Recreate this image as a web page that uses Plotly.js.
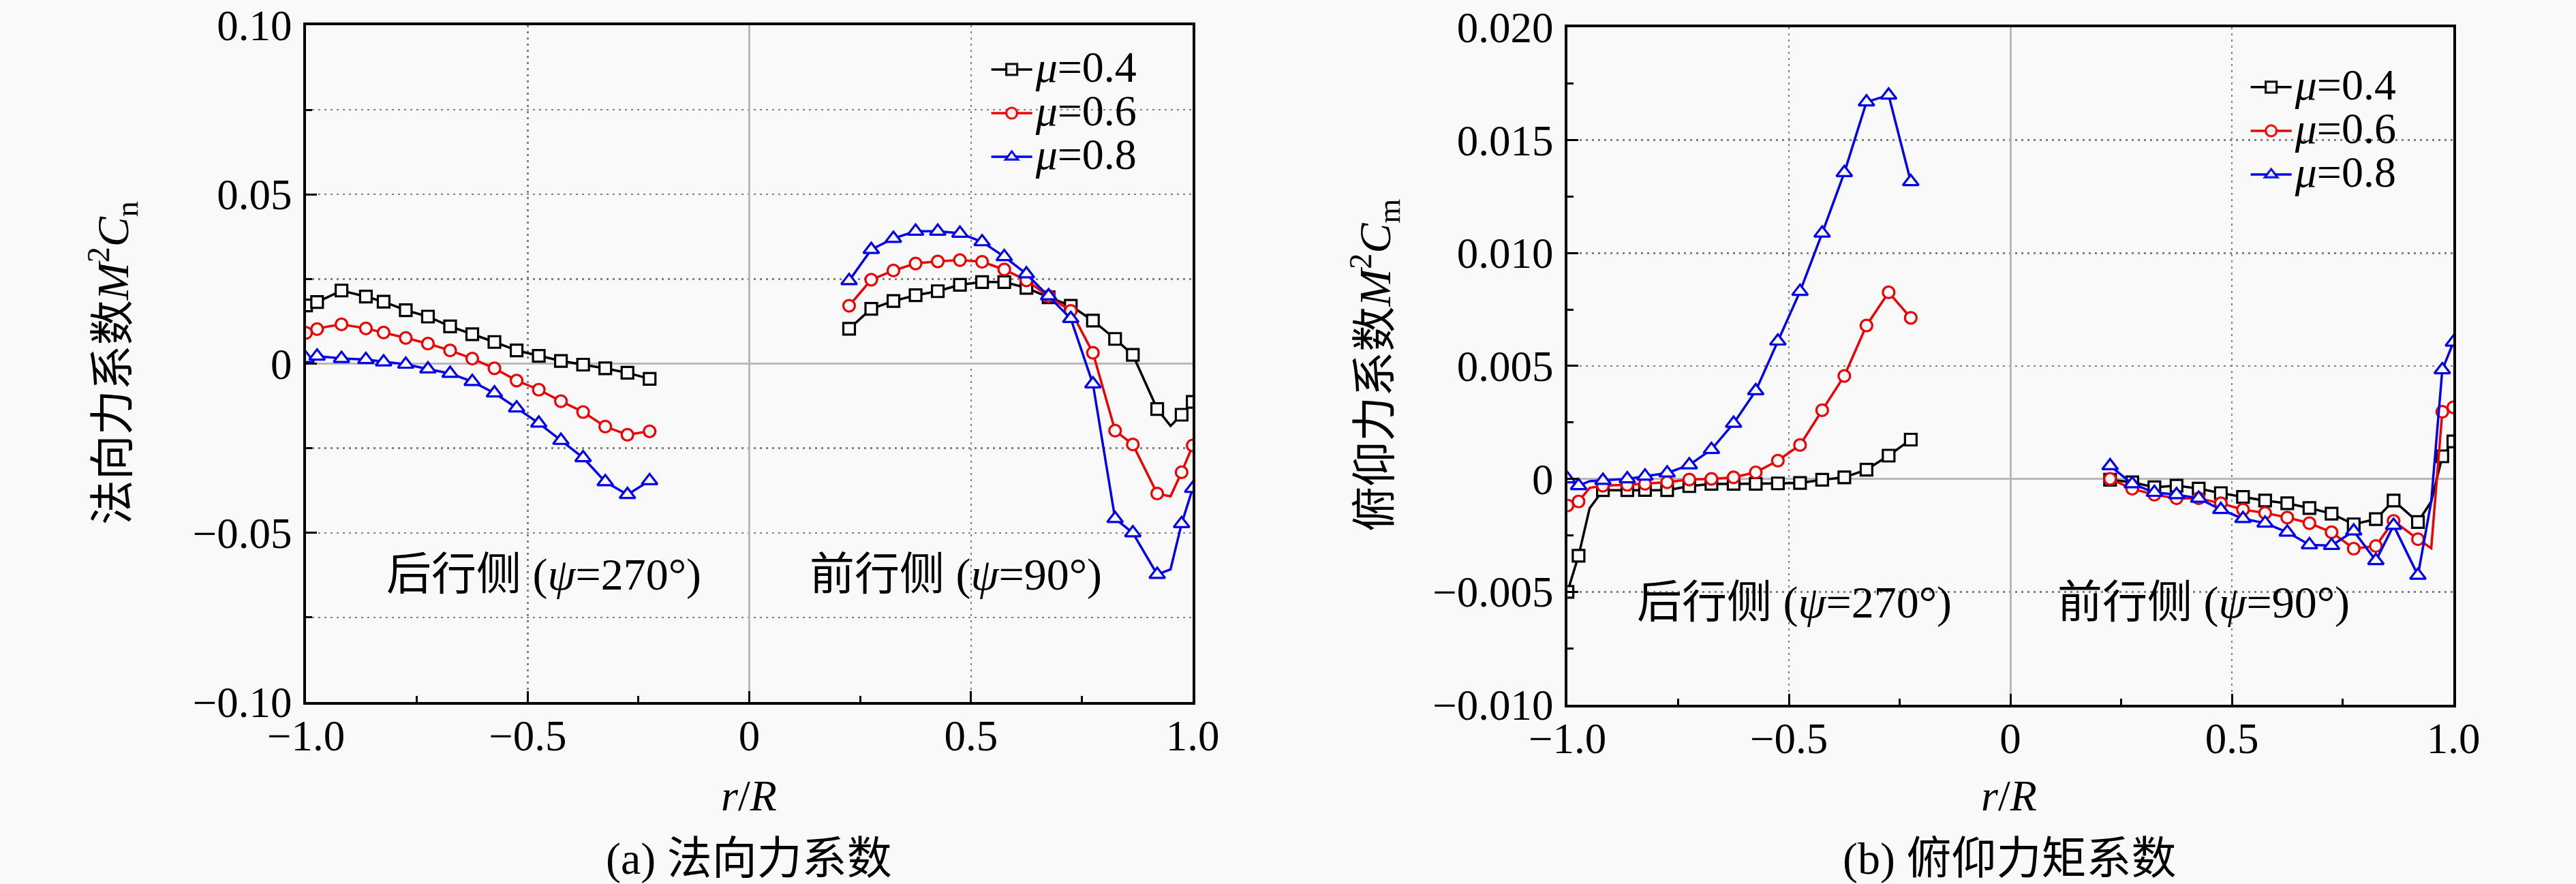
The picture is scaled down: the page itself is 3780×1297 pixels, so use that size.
<!DOCTYPE html>
<html>
<head>
<meta charset="utf-8">
<script src="https://cdn.plot.ly/plotly-3.0.1.min.js"></script>
<style>
  html, body { margin: 0; padding: 0; background: #f9f9f9; }
</style>
</head>
<body>
<div id="chart"></div>
<script>
// r/R stations, retreating side (psi=270) and advancing side (psi=90)
var xRet = [-1.0, -0.975, -0.95, -0.92, -0.865, -0.825, -0.775, -0.725, -0.675, -0.625, -0.575, -0.525, -0.475, -0.425, -0.375, -0.325, -0.275, -0.225];
var xAdv = [0.225, 0.275, 0.325, 0.375, 0.425, 0.475, 0.525, 0.575, 0.625, 0.675, 0.725, 0.775, 0.825, 0.865, 0.92, 0.95, 0.975, 1.0];

var muLabels = ['0.4', '0.6', '0.8'];

// (a) normal force coefficient M^2 Cn
var cnRet04 = [0.0172, 0.0182, 0.0197, 0.0216, 0.0198, 0.0183, 0.0158, 0.0139, 0.0110, 0.0087, 0.0064, 0.0039, 0.0023, 0.0008, -0.0003, -0.0014, -0.0027, -0.0045];
var cnRet06 = [0.0091, 0.0102, 0.0110, 0.0116, 0.0104, 0.0092, 0.0076, 0.0059, 0.0039, 0.0015, -0.0014, -0.0050, -0.0077, -0.0111, -0.0143, -0.0186, -0.0210, -0.0200];
var cnRet08 = [0.0015, 0.0022, 0.0019, 0.0015, 0.0012, 0.0005, -0.0002, -0.0016, -0.0029, -0.0053, -0.0087, -0.0131, -0.0176, -0.0227, -0.0278, -0.0349, -0.0387, -0.0346];
var cnAdv04 = [0.0103, 0.0162, 0.0185, 0.0202, 0.0214, 0.0233, 0.0241, 0.0241, 0.0224, 0.0196, 0.0171, 0.0127, 0.0073, 0.0026, -0.0134, -0.0184, -0.0151, -0.0113];
var cnAdv06 = [0.0171, 0.0248, 0.0275, 0.0296, 0.0302, 0.0306, 0.0301, 0.0278, 0.0246, 0.0199, 0.0156, 0.0032, -0.0198, -0.0239, -0.0384, -0.0392, -0.0321, -0.0242];
var cnAdv08 = [0.0245, 0.0337, 0.0370, 0.0391, 0.0391, 0.0385, 0.0360, 0.0316, 0.0265, 0.0200, 0.0133, -0.0060, -0.0458, -0.0500, -0.0623, -0.0608, -0.0473, -0.0369];

// (b) pitching moment coefficient M^2 Cm
var cmRet04 = [-0.0050, -0.0034, -0.0013, -0.0005, -0.0005, -0.00049, -0.0005, -0.00032, -0.00022, -0.00022, -0.00022, -0.0002, -0.00018, -0.00004, 0.00007, 0.00041, 0.00103, 0.00174];
var cmRet06 = [-0.00118, -0.0010, -0.0004, -0.0003, -0.00026, -0.00022, -0.00015, -0.00003, 0.0, 0.00007, 0.00029, 0.00081, 0.0015, 0.00304, 0.00456, 0.00679, 0.00826, 0.00713];
var cmRet08 = [0.0, -0.0003, -0.0001, -0.00007, 0.0, 0.00012, 0.00026, 0.00062, 0.0013, 0.00246, 0.0039, 0.0061, 0.0083, 0.01088, 0.01356, 0.01669, 0.01699, 0.01316];
var cmAdv04 = [-0.00004, -0.00015, -0.00037, -0.0003, -0.00043, -0.00063, -0.0008, -0.00096, -0.00108, -0.00129, -0.00154, -0.00201, -0.00178, -0.00096, -0.00191, -0.0010, 0.0010, 0.00166];
var cmAdv06 = [0.0, -0.00044, -0.0007, -0.00086, -0.00086, -0.00108, -0.00136, -0.00151, -0.00171, -0.00196, -0.00236, -0.00309, -0.00297, -0.00186, -0.00267, -0.00307, 0.00297, 0.00317];
var cmAdv08 = [0.00058, -0.00022, -0.0006, -0.0007, -0.00086, -0.00136, -0.00176, -0.00196, -0.00236, -0.00292, -0.00295, -0.00231, -0.00362, -0.00206, -0.00427, -0.0010, 0.00483, 0.00605];

// tick labels
var xTickVals = [-1, -0.5, 0, 0.5, 1];
var xTickText = ['\u22121.0', '\u22120.5', '0', '0.5', '1.0'];
var cnTickVals = [-0.1, -0.05, 0, 0.05, 0.1];
var cnTickText = ['\u22120.10', '\u22120.05', '0', '0.05', '0.10'];
var cmTickVals = [-0.01, -0.005, 0, 0.005, 0.01, 0.015, 0.02];
var cmTickText = ['\u22120.010', '\u22120.005', '0', '0.005', '0.010', '0.015', '0.020'];

var FONT = '"Liberation Serif", "Times New Roman", "Noto Sans CJK SC", serif';
var colors = ['#000000', '#ee0000', '#0000ee'];
var symbols = ['square', 'circle', 'triangle-up'];

// the 0.95 stations are drawn by the line only, no marker in the original
function noMarker(v) { return Math.abs(Math.abs(v) - 0.95) < 1e-9; }

function makeTrace(i, ret, adv, xa, ya, leg) {
  var xs = xRet.concat([null], xAdv);
  var ys = ret.concat([null], adv);
  return {
    type: 'scatter', mode: 'lines+markers',
    x: xs, y: ys, xaxis: xa, yaxis: ya, legend: leg,
    // legend rows are packed tighter than plotly's default, so the row font is small and the text span is bigger
    name: "<span style='font-size:64px'><i>\u03bc</i>=" + muLabels[i] + '</span>',
    connectgaps: false,
    line: { color: colors[i], width: 3.5 },
    marker: {
      symbol: symbols[i], size: i === 2 ? 20 : 17, color: '#fbfbfb',
      opacity: xs.map(function (v) { return (v === null || noMarker(v)) ? 0 : 1; }),
      line: { color: colors[i], width: 3.2 }
    },
    hoverinfo: 'skip'
  };
}

var data = [
  makeTrace(0, cnRet04, cnAdv04, 'x', 'y', 'legend'),
  makeTrace(1, cnRet06, cnAdv06, 'x', 'y', 'legend'),
  makeTrace(2, cnRet08, cnAdv08, 'x', 'y', 'legend'),
  makeTrace(0, cmRet04, cmAdv04, 'x2', 'y2', 'legend2'),
  makeTrace(1, cmRet06, cmAdv06, 'x2', 'y2', 'legend2'),
  makeTrace(2, cmRet08, cmAdv08, 'x2', 'y2', 'legend2')
];

function axis(extra) {
  return Object.assign({
    showline: true, linecolor: '#000', linewidth: 4, mirror: true,
    ticks: 'inside', ticklen: 16, tickwidth: 3, tickcolor: '#000',
    showgrid: true, gridcolor: '#808080', gridwidth: 2.5, griddash: '3px,6px',
    zeroline: true, zerolinecolor: '#b8b8b8', zerolinewidth: 3,
    tickfont: { family: FONT, size: 63, color: '#000' },
    tickmode: 'array',
    fixedrange: true
  }, extra);
}

var minorX = { tick0: 0, dtick: 0.25, ticks: 'inside', ticklen: 9, tickwidth: 3, tickcolor: '#000', showgrid: false };

var layout = {
  width: 3780, height: 1297,
  margin: { l: 0, r: 0, t: 0, b: 0 },
  paper_bgcolor: '#f9f9f9', plot_bgcolor: '#f9f9f9',
  font: { family: FONT, size: 60, color: '#000' },
  xaxis: axis({ domain: [0.1188, 0.4630], anchor: 'y', range: [-1, 1], tickvals: xTickVals, ticktext: xTickText,
    ticklabelstandoff: -9, minor: minorX }),
  yaxis: axis({ domain: [0.2058, 0.9715], anchor: 'x', range: [-0.1, 0.1], tickvals: cnTickVals, ticktext: cnTickText,
    ticklabelstandoff: 4,
    minor: { tick0: 0, dtick: 0.025, ticks: 'inside', ticklen: 9, tickwidth: 3, tickcolor: '#000',
      showgrid: true, gridcolor: '#808080', gridwidth: 2.5, griddash: '3px,6px' } }),
  xaxis2: axis({ domain: [0.6085, 0.9524], anchor: 'y2', range: [-1, 1], tickvals: xTickVals, ticktext: xTickText,
    ticklabelstandoff: -9, minor: minorX }),
  yaxis2: axis({ domain: [0.2028, 0.9692], anchor: 'x2', range: [-0.01, 0.02], tickvals: cmTickVals, ticktext: cmTickText,
    ticklabelstandoff: 4,
    minor: { tick0: 0, dtick: 0.0025, ticks: 'inside', ticklen: 9, tickwidth: 3, tickcolor: '#000', showgrid: false } }),
  legend: {
    x: 0.3835, y: 0.950, xanchor: 'left', yanchor: 'top',
    bgcolor: 'rgba(0,0,0,0)', font: { family: FONT, size: 47 }, itemwidth: 60, tracegroupgap: 0
  },
  legend2: {
    x: 0.8724, y: 0.930, xanchor: 'left', yanchor: 'top',
    bgcolor: 'rgba(0,0,0,0)', font: { family: FONT, size: 47 }, itemwidth: 60, tracegroupgap: 0
  },
  annotations: [
    { xref: 'x', yref: 'y', x: -0.463, y: -0.0624, text: '后行侧 (<i>\u03c8</i>=270°)' },
    { xref: 'x', yref: 'y', x: 0.466, y: -0.0624, text: '前行侧 (<i>\u03c8</i>=90°)' },
    { xref: 'x2', yref: 'y2', x: -0.4885, y: -0.00547, text: '后行侧 (<i>\u03c8</i>=270°)' },
    { xref: 'x2', yref: 'y2', x: 0.4356, y: -0.00547, text: '前行侧 (<i>\u03c8</i>=90°)' },
    { xref: 'paper', yref: 'paper', x: 0.0437, y: 0.589, textangle: -90,
      text: '法向力系数<i>M</i><sup>2</sup><i>C</i><sub>n</sub>' },
    { xref: 'paper', yref: 'paper', x: 0.5339, y: 0.587, textangle: -90,
      text: '俯仰力系数<i>M</i><sup>2</sup><i>C</i><sub>m</sub>' },
    { xref: 'paper', yref: 'paper', x: 0.2907, y: 0.0995, text: '<i>r</i>/<i>R</i>', size: 64 },
    { xref: 'paper', yref: 'paper', x: 0.7799, y: 0.0995, text: '<i>r</i>/<i>R</i>', size: 64 },
    { xref: 'paper', yref: 'paper', x: 0.2907, y: 0.0285, text: '(a) 法向力系数' },
    { xref: 'paper', yref: 'paper', x: 0.7799, y: 0.0285, text: '(b) 俯仰力矩系数' }
  ].map(function (a) {
    var size = a.size || 66;
    delete a.size;
    return Object.assign({ showarrow: false, xanchor: 'center', yanchor: 'middle',
      font: { family: FONT, size: size, color: '#000' } }, a);
  })
};

Plotly.newPlot('chart', data, layout, { displayModeBar: false, staticPlot: true });
</script>
</body>
</html>
